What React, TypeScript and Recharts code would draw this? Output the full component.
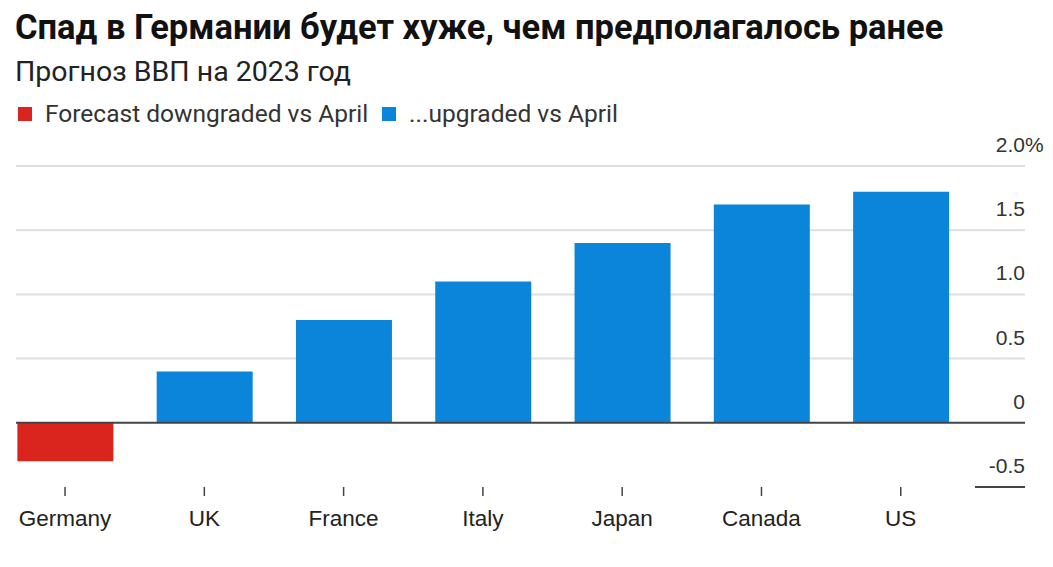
import React from 'react';
import { BarChart, Bar, XAxis, YAxis, CartesianGrid, ReferenceLine, Cell } from 'recharts';

// GDP forecast for 2023, % (IMF, vs April)
const countries = ['Germany', 'UK', 'France', 'Italy', 'Japan', 'Canada', 'US'];
const forecast2023 = [-0.3, 0.4, 0.8, 1.1, 1.4, 1.7, 1.8];
const yTicks = [-0.5, 0, 0.5, 1.0, 1.5, 2.0];
const gridValues = [0.5, 1.0, 1.5, 2.0];
const xTicks = countries.map((_, i) => i);

const RED = '#d9251e';
const BLUE = '#0a85da';
const SANS = '"Liberation Sans", Arial, Helvetica, sans-serif';
const PLOT_RIGHT = 1025;

const data = countries.map((name, i) => ({ idx: i, name, value: forecast2023[i] }));

const YTick = (props: any) => {
  const { y, payload } = props;
  const v = payload.value;
  const label = v === 0 ? '0' : v.toFixed(1);
  return (
    <g>
      <text x={PLOT_RIGHT} y={y - 14} textAnchor="end" fontSize={21} fill="#333" fontFamily={SANS}>
        {label}
      </text>
      {v === 2 && (
        <text x={PLOT_RIGHT} y={y - 14} textAnchor="start" fontSize={21} fill="#333" fontFamily={SANS}>
          %
        </text>
      )}
      {v === -0.5 && <line x1={975} x2={PLOT_RIGHT} y1={y} y2={y} stroke="#444" strokeWidth={2} />}
    </g>
  );
};

const LegendItem = ({ color, text }: { color: string; text: string }) => (
  <div style={{ display: 'flex', alignItems: 'center', marginRight: 14 }}>
    <span style={{ width: 14, height: 14, background: color, display: 'inline-block', marginRight: 13 }} />
    <span>{text}</span>
  </div>
);

export default function App() {
  return (
    <div
      style={{
        position: 'fixed',
        top: 0,
        left: 0,
        width: 1053,
        height: 567,
        overflow: 'hidden',
        background: '#fff',
        fontFamily: 'Roboto, sans-serif',
        color: '#111',
      }}
    >
      <div style={{ position: 'absolute', left: 15, top: 7, fontSize: 34.5, fontWeight: 700, whiteSpace: 'nowrap' }}>
        Спад в Германии будет хуже, чем предполагалось ранее
      </div>
      <div style={{ position: 'absolute', left: 15, top: 55, fontSize: 28.5, color: '#222', whiteSpace: 'nowrap' }}>
        Прогноз ВВП на 2023 год
      </div>
      <div
        style={{
          position: 'absolute',
          left: 18,
          top: 99,
          fontSize: 24.5,
          color: '#333',
          display: 'flex',
          whiteSpace: 'nowrap',
        }}
      >
        <LegendItem color={RED} text="Forecast downgraded vs April" />
        <LegendItem color={BLUE} text="...upgraded vs April" />
      </div>

      <div style={{ position: 'absolute', left: 0, top: 0 }}>
        <BarChart width={1053} height={567} data={data} margin={{ top: 166, right: 0, bottom: 0, left: 16 }}>
          <CartesianGrid vertical={false} horizontalValues={gridValues} stroke="#dedede" strokeWidth={2} />
          <XAxis
            type="number"
            dataKey="idx"
            domain={[-0.352, 6.892]}
            ticks={xTicks}
            interval={0}
            height={80}
            axisLine={false}
            tickLine={{ stroke: '#444', strokeWidth: 1.5 }}
            tickSize={9}
            tickMargin={14}
            tickFormatter={(i: number) => countries[i]}
            tick={{ fontSize: 22.5, fill: '#222', fontFamily: SANS }}
          />
          <YAxis
            orientation="right"
            width={28}
            domain={[-0.5, 2]}
            ticks={yTicks}
            interval={0}
            axisLine={false}
            tickLine={false}
            tick={<YTick />}
          />
          <Bar dataKey="value" barSize={96} isAnimationActive={false}>
            {data.map((d, i) => (
              <Cell key={i} fill={d.value < 0 ? RED : BLUE} />
            ))}
          </Bar>
          <ReferenceLine y={0} stroke="#444" strokeWidth={2} />
        </BarChart>
      </div>
    </div>
  );
}
